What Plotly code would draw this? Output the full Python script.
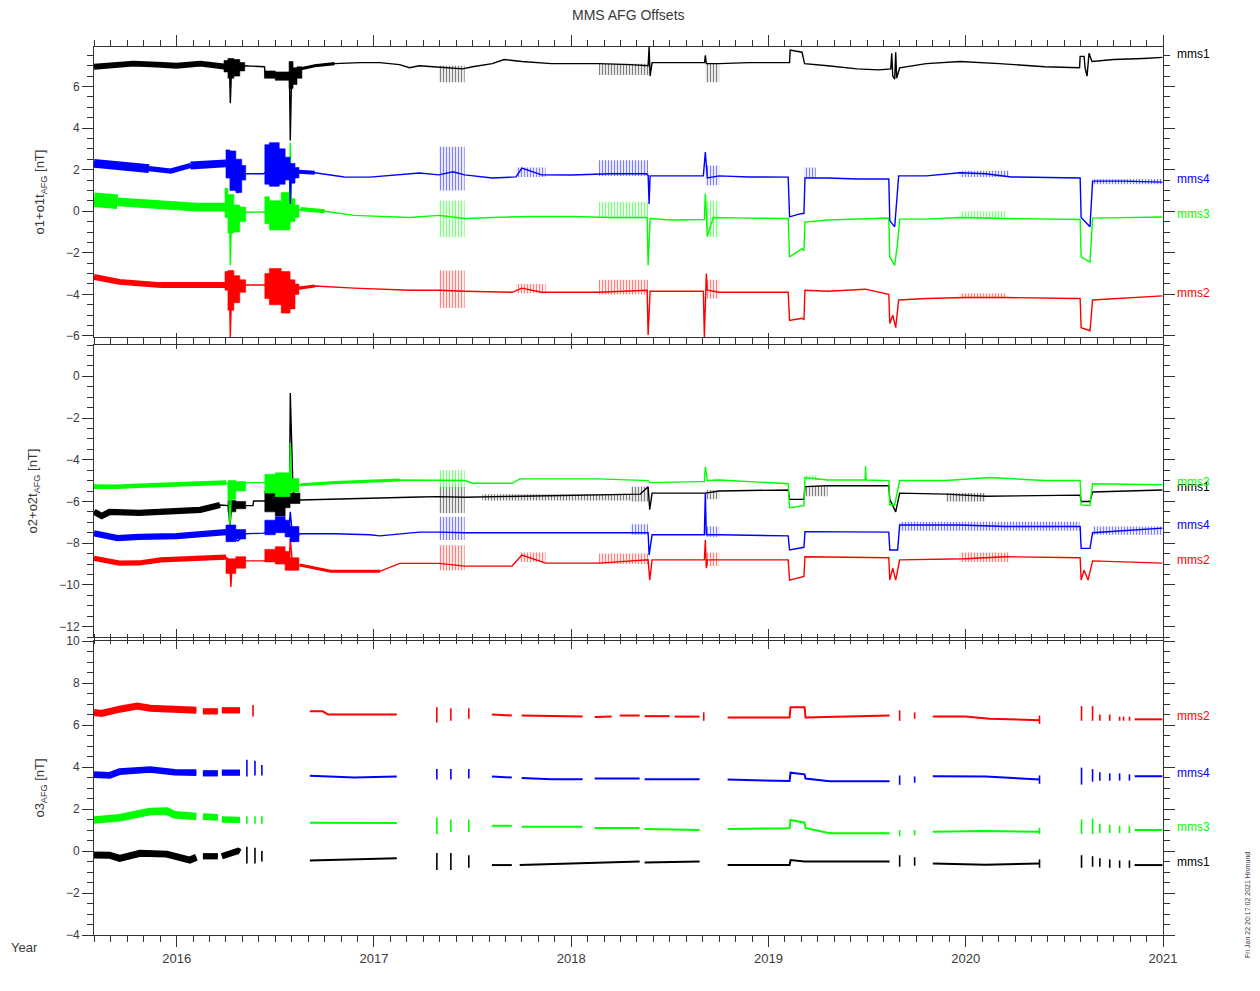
import plotly.graph_objects as go
from plotly.subplots import make_subplots

TITLE = "MMS AFG Offsets"
YEAR_TICKS = [2016, 2017, 2018, 2019, 2020, 2021]
COLORS = {"mms1": "#000000", "mms2": "#ff0000", "mms3": "#00ff00", "mms4": "#0000ff"}
Y_TITLES = ["o1+o1t<sub>AFG</sub> [nT]", "o2+o2t<sub>AFG</sub> [nT]", "o3<sub>AFG</sub> [nT]"]
Y_TICKS = [[-6, -4, -2, 0, 2, 4, 6], [-12, -10, -8, -6, -4, -2, 0], [-4, -2, 0, 2, 4, 6, 8, 10]]
FOOTER = "Fri Jan 22 20:17:02 2021 Hnmund"

# Each series: centre-line points (year, nT); THICK = (t0, t1, noise amplitude nT);
# BANDS = (t0, t1, low, high) noisy envelopes; TICKS = (t, low, high) short isolated bursts.

# ---------------- Panel 1 : o1 + o1t ----------------
P1_MMS1 = [(2015.581, 6.95), (2015.66, 7.0), (2015.78, 7.1), (2015.9, 7.05), (2016.0, 7.0), (2016.12, 7.1),
           (2016.22, 7.0), (2016.25, 6.95), (2016.268, 6.9), (2016.272, 5.2), (2016.278, 6.8), (2016.3, 6.9),
           (2016.34, 7.0), (2016.42, 6.95), (2016.445, 6.95), (2016.45, 6.5), (2016.56, 6.5), (2016.572, 6.4),
           (2016.576, 3.4), (2016.582, 6.2), (2016.6, 6.5), (2016.63, 6.85), (2016.7, 7.0), (2016.8, 7.1),
           (2016.93, 7.15), (2017.03, 7.15), (2017.13, 7.05), (2017.18, 6.9), (2017.23, 7.0), (2017.3, 6.95),
           (2017.45, 6.85), (2017.5, 6.95), (2017.6, 7.1), (2017.66, 7.3), (2017.75, 7.2), (2017.9, 7.1),
           (2018.0, 7.1), (2018.14, 7.1), (2018.3, 7.05), (2018.39, 7.0), (2018.395, 7.9), (2018.40, 6.5),
           (2018.41, 7.15), (2018.5, 7.15), (2018.676, 7.15), (2018.68, 7.5), (2018.685, 7.1), (2018.75, 7.1),
           (2018.9, 7.15), (2019.107, 7.15), (2019.11, 7.75), (2019.17, 7.65), (2019.183, 7.1), (2019.3, 7.0),
           (2019.45, 6.85), (2019.56, 6.8), (2019.62, 6.85), (2019.625, 7.6), (2019.63, 6.5), (2019.64, 6.35),
           (2019.645, 7.65), (2019.65, 6.4), (2019.665, 6.9), (2019.8, 7.1), (2019.97, 7.2), (2020.17, 7.1),
           (2020.4, 6.95), (2020.577, 6.9), (2020.58, 7.45), (2020.60, 7.45), (2020.605, 6.9), (2020.615, 6.5),
           (2020.625, 7.6), (2020.64, 7.2), (2020.75, 7.3), (2020.9, 7.35), (2020.997, 7.4)]
P1_MMS1_THICK = [(2015.581, 2016.25, 0.28), (2016.63, 2016.8, 0.15)]
P1_MMS1_BANDS = [(2016.24, 2016.26, 6.7, 7.25), (2016.26, 2016.29, 6.4, 7.35), (2016.29, 2016.32, 6.5, 7.3),
                 (2016.32, 2016.345, 6.75, 7.15), (2016.445, 2016.5, 6.4, 6.75), (2016.5, 2016.57, 6.3, 6.7),
                 (2016.57, 2016.59, 5.9, 7.2), (2016.59, 2016.61, 6.1, 6.9), (2016.61, 2016.635, 6.4, 6.95),
                 (2017.33, 2017.46, 6.2, 7.0), (2018.14, 2018.395, 6.55, 7.1), (2018.68, 2018.75, 6.2, 7.1)]

P1_MMS4 = [(2015.581, 2.3), (2015.7, 2.2), (2015.86, 2.05), (2015.97, 1.93), (2016.07, 2.2), (2016.2, 2.3),
           (2016.25, 2.3), (2016.30, 1.3), (2016.31, 0.87), (2016.32, 1.5), (2016.35, 1.8), (2016.44, 1.8),
           (2016.5, 2.2), (2016.572, 2.0), (2016.576, 0.35), (2016.582, 1.8), (2016.62, 1.9), (2016.7, 1.85),
           (2016.85, 1.65), (2016.98, 1.64), (2017.1, 1.75), (2017.23, 1.84), (2017.33, 1.75), (2017.4, 1.9),
           (2017.46, 1.75), (2017.6, 1.6), (2017.72, 1.65), (2017.75, 2.07), (2017.85, 1.75), (2018.0, 1.74),
           (2018.2, 1.8), (2018.38, 1.8), (2018.39, 1.74), (2018.395, 0.35), (2018.40, 1.7), (2018.5, 1.7),
           (2018.67, 1.7), (2018.68, 2.85), (2018.69, 1.6), (2018.75, 1.7), (2018.9, 1.65), (2019.1, 1.64),
           (2019.107, -0.27), (2019.15, -0.15), (2019.18, -0.1), (2019.185, 1.6), (2019.3, 1.6), (2019.45, 1.55),
           (2019.61, 1.55), (2019.615, -0.45), (2019.64, -0.75), (2019.66, 1.7), (2019.8, 1.7), (2019.97, 1.85),
           (2020.1, 1.8), (2020.23, 1.65), (2020.55, 1.6), (2020.58, 1.6), (2020.585, -0.3), (2020.63, -0.75),
           (2020.643, 1.45), (2020.8, 1.45), (2020.997, 1.4)]
P1_MMS4_THICK = [(2015.581, 2015.86, 0.42), (2015.86, 2016.07, 0.25), (2016.07, 2016.25, 0.38),
                 (2016.62, 2016.7, 0.2)]
P1_MMS4_BANDS = [(2016.25, 2016.27, 1.6, 2.95), (2016.27, 2016.30, 1.0, 2.9), (2016.30, 2016.33, 0.9, 2.5),
                 (2016.33, 2016.35, 1.5, 2.2), (2016.447, 2016.47, 1.3, 3.2), (2016.47, 2016.52, 1.2, 3.3),
                 (2016.52, 2016.55, 1.3, 3.0), (2016.55, 2016.575, 1.5, 2.6), (2016.575, 2016.60, 1.35, 2.3),
                 (2016.60, 2016.62, 1.6, 2.1), (2017.33, 2017.46, 1.0, 3.1), (2017.72, 2017.87, 1.65, 2.1),
                 (2018.14, 2018.39, 1.7, 2.45), (2018.68, 2018.75, 1.25, 2.2), (2019.18, 2019.24, 1.6, 2.1),
                 (2019.97, 2020.22, 1.65, 1.95), (2020.643, 2020.997, 1.3, 1.55)]

P1_MMS3 = [(2015.581, 0.55), (2015.7, 0.45), (2015.9, 0.3), (2016.1, 0.2), (2016.25, 0.2), (2016.268, 0.0),
           (2016.272, -2.6), (2016.278, -0.2), (2016.33, -0.3), (2016.35, -0.05), (2016.44, -0.04), (2016.5, -0.3),
           (2016.572, 0.0), (2016.576, 3.3), (2016.582, -0.2), (2016.63, 0.1), (2016.75, 0.0), (2016.9, -0.2),
           (2016.98, -0.23), (2017.18, -0.3), (2017.33, -0.2), (2017.4, -0.3), (2017.46, -0.35), (2017.6, -0.3),
           (2017.8, -0.25), (2018.0, -0.25), (2018.2, -0.3), (2018.385, -0.3), (2018.39, -2.6), (2018.40, -0.35),
           (2018.5, -0.42), (2018.675, -0.4), (2018.68, 0.85), (2018.69, -1.2), (2018.72, -0.3), (2018.9, -0.33),
           (2019.1, -0.35), (2019.107, -2.2), (2019.17, -1.8), (2019.18, -1.9), (2019.185, -0.52), (2019.3, -0.42),
           (2019.61, -0.33), (2019.615, -2.2), (2019.64, -2.6), (2019.655, -1.5), (2019.665, -0.38),
           (2019.8, -0.38), (2019.97, -0.3), (2020.2, -0.35), (2020.55, -0.38), (2020.58, -0.4), (2020.585, -2.2),
           (2020.63, -2.45), (2020.643, -0.33), (2020.997, -0.28)]
P1_MMS3_THICK = [(2015.581, 2015.7, 0.7), (2015.7, 2016.25, 0.42), (2016.63, 2016.75, 0.2)]
P1_MMS3_BANDS = [(2016.245, 2016.26, -0.3, 1.1), (2016.26, 2016.29, -1.05, 0.8), (2016.29, 2016.32, -1.0, 0.3),
                 (2016.32, 2016.35, -0.5, 0.2), (2016.447, 2016.47, -0.6, 0.7), (2016.47, 2016.53, -0.9, 0.5),
                 (2016.53, 2016.575, -0.9, 0.9), (2016.575, 2016.60, -0.5, 0.6), (2016.60, 2016.62, -0.3, 0.3),
                 (2017.33, 2017.46, -1.25, 0.5), (2018.14, 2018.39, -0.35, 0.45), (2018.68, 2018.75, -1.25, 0.5),
                 (2019.97, 2020.2, -0.35, 0.0)]

P1_MMS2 = [(2015.581, -3.16), (2015.71, -3.4), (2015.92, -3.55), (2016.17, -3.6), (2016.25, -3.55),
           (2016.268, -3.7), (2016.272, -6.05), (2016.278, -4.0), (2016.33, -3.6), (2016.35, -3.55),
           (2016.44, -3.55), (2016.62, -3.7), (2016.7, -3.6), (2016.9, -3.7), (2017.18, -3.8), (2017.33, -3.8),
           (2017.46, -3.85), (2017.7, -3.9), (2017.75, -3.7), (2017.85, -3.9), (2018.14, -3.9), (2018.3, -3.85),
           (2018.385, -3.8), (2018.39, -5.95), (2018.40, -3.85), (2018.67, -3.85), (2018.675, -6.05),
           (2018.685, -3.0), (2018.69, -3.8), (2018.75, -3.9), (2019.1, -3.9), (2019.107, -5.25), (2019.17, -5.15),
           (2019.18, -5.2), (2019.185, -3.8), (2019.3, -3.85), (2019.49, -3.75), (2019.61, -4.0), (2019.615, -5.4),
           (2019.63, -5.0), (2019.645, -5.6), (2019.66, -4.27), (2019.8, -4.2), (2020.0, -4.15), (2020.2, -4.15),
           (2020.55, -4.2), (2020.58, -4.2), (2020.585, -5.6), (2020.63, -5.75), (2020.643, -4.27),
           (2020.997, -4.07)]
P1_MMS2_THICK = [(2015.581, 2016.25, 0.28), (2016.62, 2016.7, 0.15)]
P1_MMS2_BANDS = [(2016.245, 2016.26, -3.8, -2.9), (2016.26, 2016.29, -4.76, -2.85), (2016.29, 2016.32, -4.4, -3.1),
                 (2016.32, 2016.35, -3.9, -3.3), (2016.447, 2016.47, -4.2, -3.0), (2016.47, 2016.53, -4.5, -2.75),
                 (2016.53, 2016.575, -4.9, -2.9), (2016.575, 2016.60, -4.7, -3.3), (2016.60, 2016.62, -4.0, -3.5),
                 (2017.33, 2017.46, -4.65, -2.85), (2017.72, 2017.87, -3.95, -3.5), (2018.14, 2018.39, -4.0, -3.3),
                 (2018.68, 2018.75, -4.2, -3.3), (2019.97, 2020.2, -4.2, -3.95)]

# ---------------- Panel 2 : o2 + o2t ----------------
P2_MMS3 = [(2015.581, -5.29), (2015.7, -5.3), (2015.81, -5.25), (2016.12, -5.15), (2016.25, -5.1),
           (2016.262, -5.2), (2016.27, -7.2), (2016.278, -5.4), (2016.33, -5.3), (2016.35, -5.1), (2016.44, -5.1),
           (2016.572, -5.1), (2016.576, -3.2), (2016.582, -5.3), (2016.63, -5.2), (2016.8, -5.1), (2017.13, -4.97),
           (2017.23, -4.97), (2017.46, -5.0), (2017.5, -5.13), (2017.7, -5.13), (2017.74, -4.92), (2018.14, -4.92),
           (2018.39, -5.0), (2018.40, -5.1), (2018.65, -5.05), (2018.675, -5.05), (2018.68, -4.33),
           (2018.69, -5.0), (2018.75, -4.97), (2019.1, -5.15), (2019.107, -6.3), (2019.18, -6.2), (2019.185, -4.85),
           (2019.3, -4.97), (2019.49, -4.97), (2019.492, -4.3), (2019.495, -4.97), (2019.61, -5.0),
           (2019.615, -6.17), (2019.64, -6.17), (2019.665, -5.0), (2019.9, -5.0), (2020.12, -4.85), (2020.4, -5.0),
           (2020.58, -5.0), (2020.585, -6.17), (2020.63, -6.2), (2020.643, -5.15), (2020.997, -5.2)]
P2_MMS3_THICK = [(2015.581, 2016.25, 0.22), (2016.63, 2017.13, 0.15)]
P2_MMS3_BANDS = [(2016.26, 2016.30, -5.9, -5.0), (2016.30, 2016.35, -5.5, -5.05), (2016.447, 2016.5, -5.6, -4.7),
                 (2016.5, 2016.575, -5.77, -4.63), (2016.575, 2016.62, -5.55, -4.9), (2017.33, 2017.46, -5.4, -4.5),
                 (2019.18, 2019.25, -5.0, -4.75)]

P2_MMS1 = [(2015.581, -6.49), (2015.62, -6.7), (2015.66, -6.5), (2015.81, -6.55), (2016.12, -6.4),
           (2016.22, -6.17), (2016.262, -6.2), (2016.27, -7.2), (2016.278, -6.3), (2016.35, -6.2), (2016.387, -6.2),
           (2016.39, -5.98), (2016.447, -5.98), (2016.5, -6.3), (2016.572, -6.0), (2016.576, -0.8), (2016.59, -5.5),
           (2016.6, -6.0), (2016.625, -5.93), (2016.8, -5.9), (2017.0, -5.85), (2017.23, -5.79), (2017.33, -5.77),
           (2017.46, -5.8), (2017.74, -5.75), (2018.0, -5.7), (2018.35, -5.65), (2018.39, -5.3), (2018.398, -6.4),
           (2018.41, -5.6), (2018.68, -5.6), (2018.75, -5.5), (2019.1, -5.45), (2019.107, -5.9), (2019.18, -5.9),
           (2019.185, -5.29), (2019.3, -5.25), (2019.61, -5.25), (2019.615, -5.9), (2019.63, -6.2),
           (2019.645, -6.5), (2019.665, -5.6), (2019.9, -5.65), (2020.1, -5.75), (2020.4, -5.7), (2020.58, -5.7),
           (2020.585, -6.0), (2020.63, -6.0), (2020.643, -5.55), (2020.997, -5.45)]
P2_MMS1_THICK = [(2015.581, 2016.22, 0.3)]
P2_MMS1_BANDS = [(2016.26, 2016.30, -6.5, -5.95), (2016.30, 2016.35, -6.35, -6.0), (2016.447, 2016.5, -6.5, -5.5),
                 (2016.5, 2016.55, -6.7, -5.45), (2016.55, 2016.575, -6.3, -5.6), (2016.575, 2016.625, -6.1, -5.6),
                 (2017.33, 2017.46, -6.55, -5.3), (2017.55, 2018.3, -5.95, -5.65), (2018.3, 2018.39, -6.0, -5.3),
                 (2018.68, 2018.75, -5.9, -5.45), (2019.185, 2019.3, -5.75, -5.29), (2019.9, 2020.1, -6.0, -5.6)]

P2_MMS4 = [(2015.581, -7.53), (2015.7, -7.76), (2015.81, -7.7), (2016.0, -7.66), (2016.25, -7.47),
           (2016.31, -7.9), (2016.35, -7.55), (2016.44, -7.52), (2016.572, -7.0), (2016.576, -6.5),
           (2016.59, -7.93), (2016.625, -7.55), (2016.8, -7.55), (2016.98, -7.6), (2017.03, -7.65),
           (2017.23, -7.47), (2017.33, -7.47), (2017.46, -7.5), (2018.0, -7.5), (2018.35, -7.5), (2018.39, -7.5),
           (2018.395, -8.57), (2018.41, -7.6), (2018.675, -7.6), (2018.68, -5.6), (2018.685, -7.6),
           (2018.75, -7.6), (2019.1, -7.65), (2019.107, -8.33), (2019.18, -8.2), (2019.185, -7.45),
           (2019.61, -7.47), (2019.615, -8.33), (2019.655, -8.33), (2019.665, -7.13), (2019.97, -7.13),
           (2020.2, -7.2), (2020.58, -7.2), (2020.585, -8.25), (2020.63, -8.25), (2020.643, -7.5), (2020.997, -7.28)]
P2_MMS4_THICK = [(2015.581, 2016.25, 0.3)]
P2_MMS4_BANDS = [(2016.25, 2016.30, -7.93, -7.13), (2016.30, 2016.35, -7.8, -7.35), (2016.447, 2016.5, -7.6, -6.9),
                 (2016.5, 2016.55, -7.5, -6.73), (2016.55, 2016.575, -7.7, -6.9), (2016.575, 2016.62, -7.93, -7.2),
                 (2017.33, 2017.46, -7.85, -6.73), (2018.3, 2018.39, -7.6, -7.1), (2018.68, 2018.75, -7.7, -7.2),
                 (2019.665, 2020.577, -7.4, -6.97), (2020.643, 2020.997, -7.6, -7.2)]

P2_MMS2 = [(2015.581, -8.73), (2015.71, -8.96), (2015.81, -8.95), (2015.92, -8.8), (2016.25, -8.67),
           (2016.268, -8.8), (2016.275, -10.1), (2016.28, -9.2), (2016.35, -8.85), (2016.44, -8.85),
           (2016.572, -8.6), (2016.576, -7.8), (2016.59, -9.3), (2016.625, -9.05), (2016.78, -9.35),
           (2017.03, -9.35), (2017.13, -8.97), (2017.33, -8.97), (2017.46, -9.1), (2017.7, -9.1), (2017.75, -8.57),
           (2017.87, -8.96), (2018.14, -8.96), (2018.39, -8.8), (2018.398, -9.77), (2018.41, -8.8),
           (2018.675, -8.8), (2018.68, -7.85), (2018.685, -9.2), (2018.69, -8.8), (2019.1, -8.8), (2019.107, -9.77),
           (2019.18, -9.6), (2019.185, -8.65), (2019.61, -8.7), (2019.615, -9.77), (2019.63, -9.2),
           (2019.645, -9.77), (2019.665, -8.8), (2020.0, -8.75), (2020.2, -8.65), (2020.58, -8.7),
           (2020.585, -9.77), (2020.6, -9.3), (2020.62, -9.77), (2020.643, -8.85), (2020.997, -8.96)]
P2_MMS2_THICK = [(2015.581, 2016.25, 0.25), (2016.625, 2017.03, 0.15)]
P2_MMS2_BANDS = [(2016.25, 2016.30, -9.45, -8.75), (2016.30, 2016.35, -9.2, -8.65), (2016.447, 2016.5, -8.9, -8.3),
                 (2016.5, 2016.55, -9.0, -8.17), (2016.55, 2016.575, -9.3, -8.4), (2016.575, 2016.62, -9.3, -8.7),
                 (2017.33, 2017.46, -9.3, -8.1), (2017.74, 2017.87, -8.9, -8.45), (2018.14, 2018.39, -9.0, -8.5),
                 (2018.68, 2018.75, -9.1, -8.45), (2019.97, 2020.22, -8.9, -8.45)]

# ---------------- Panel 3 : o3 (None = data gap) ----------------
P3_MMS2 = [(2015.581, 6.6), (2015.62, 6.55), (2015.711, 6.75), (2015.8, 6.9), (2015.865, 6.8), (2015.99, 6.75),
           (2016.1, 6.7), (2016.118, None), (2016.133, 6.65), (2016.209, 6.65), (2016.215, None), (2016.229, 6.7),
           (2016.321, 6.7), (2016.33, None), (2016.675, 6.65), (2016.741, 6.65), (2016.767, 6.5), (2016.9, 6.5),
           (2017.116, 6.5), (2017.12, None), (2017.598, 6.5), (2017.699, 6.45), (2017.71, None), (2017.749, 6.45),
           (2018.058, 6.4), (2018.07, None), (2018.119, 6.38), (2018.205, 6.4), (2018.215, None), (2018.246, 6.45),
           (2018.347, 6.45), (2018.35, None), (2018.372, 6.42), (2018.499, 6.42), (2018.51, None), (2018.524, 6.4),
           (2018.651, 6.4), (2018.66, None), (2018.793, 6.36), (2019.107, 6.36), (2019.112, 6.85), (2019.183, 6.85),
           (2019.188, 6.36), (2019.411, 6.4), (2019.614, 6.45), (2019.62, None), (2019.833, 6.4), (2020.0, 6.4),
           (2020.121, 6.3), (2020.374, 6.23), (2020.38, None), (2020.856, 6.27), (2020.997, 6.27)]
P3_MMS2_THICK = [(2015.581, 2016.1, 0.33), (2016.133, 2016.209, 0.3), (2016.229, 2016.321, 0.3)]
P3_MMS2_TICKS = [(2016.387, 6.4, 6.95), (2017.319, 6.12, 6.85), (2017.390, 6.2, 6.8), (2017.481, 6.3, 6.8),
                 (2018.672, 6.2, 6.6), (2019.665, 6.2, 6.7), (2019.741, 6.3, 6.6), (2020.374, 6.05, 6.45),
                 (2020.587, 6.2, 6.9), (2020.643, 6.2, 6.9), (2020.68, 6.2, 6.5), (2020.73, 6.2, 6.5),
                 (2020.78, 6.2, 6.4), (2020.8, 6.2, 6.4), (2020.83, 6.2, 6.4)]

P3_MMS4 = [(2015.581, 3.64), (2015.66, 3.6), (2015.711, 3.78), (2015.865, 3.88), (2015.99, 3.75), (2016.1, 3.73),
           (2016.118, None), (2016.133, 3.7), (2016.209, 3.7), (2016.215, None), (2016.229, 3.73), (2016.321, 3.73),
           (2016.33, None), (2016.675, 3.58), (2016.767, 3.55), (2016.9, 3.5), (2017.116, 3.55), (2017.12, None),
           (2017.598, 3.55), (2017.699, 3.5), (2017.71, None), (2017.749, 3.48), (2017.9, 3.42), (2018.058, 3.42),
           (2018.07, None), (2018.119, 3.45), (2018.347, 3.45), (2018.35, None), (2018.372, 3.42), (2018.651, 3.42),
           (2018.66, None), (2018.793, 3.4), (2019.107, 3.33), (2019.112, 3.73), (2019.183, 3.65), (2019.188, 3.45),
           (2019.310, 3.32), (2019.614, 3.32), (2019.62, None), (2019.833, 3.56), (2020.1, 3.55), (2020.374, 3.4),
           (2020.38, None), (2020.856, 3.56), (2020.997, 3.56)]
P3_MMS4_THICK = [(2015.581, 2016.1, 0.32), (2016.133, 2016.209, 0.3), (2016.229, 2016.321, 0.3)]
P3_MMS4_TICKS = [(2016.356, 3.55, 4.35), (2016.397, 3.6, 4.3), (2016.432, 3.6, 4.1), (2017.319, 3.4, 3.9),
                 (2017.390, 3.4, 3.9), (2017.481, 3.45, 3.9), (2019.665, 3.15, 3.6), (2019.741, 3.25, 3.55),
                 (2020.374, 3.2, 3.6), (2020.587, 3.16, 3.97), (2020.643, 3.3, 3.9), (2020.68, 3.35, 3.75),
                 (2020.73, 3.35, 3.7), (2020.78, 3.35, 3.7), (2020.83, 3.35, 3.65)]

P3_MMS3 = [(2015.581, 1.48), (2015.66, 1.5), (2015.711, 1.58), (2015.865, 1.88), (2015.95, 1.9), (2015.99, 1.72),
           (2016.1, 1.64), (2016.118, None), (2016.133, 1.64), (2016.209, 1.6), (2016.215, None), (2016.229, 1.5),
           (2016.321, 1.48), (2016.33, None), (2016.675, 1.35), (2017.116, 1.33), (2017.12, None), (2017.598, 1.2),
           (2017.699, 1.2), (2017.71, None), (2017.749, 1.16), (2018.058, 1.16), (2018.07, None), (2018.119, 1.1),
           (2018.347, 1.1), (2018.35, None), (2018.372, 1.05), (2018.651, 1.0), (2018.66, None), (2018.793, 1.05),
           (2019.107, 1.08), (2019.112, 1.48), (2019.183, 1.35), (2019.188, 1.1), (2019.310, 0.85),
           (2019.614, 0.85), (2019.62, None), (2019.833, 0.92), (2020.1, 0.95), (2020.374, 0.92), (2020.38, None),
           (2020.856, 1.0), (2020.997, 1.0)]
P3_MMS3_THICK = [(2015.581, 2016.1, 0.36), (2016.133, 2016.209, 0.32), (2016.229, 2016.321, 0.3)]
P3_MMS3_TICKS = [(2016.356, 1.3, 1.65), (2016.397, 1.3, 1.65), (2016.432, 1.3, 1.65), (2017.319, 0.8, 1.6),
                 (2017.390, 0.9, 1.5), (2017.481, 0.9, 1.5), (2019.665, 0.7, 1.0), (2019.741, 0.75, 1.0),
                 (2020.374, 0.8, 1.1), (2020.587, 0.8, 1.5), (2020.643, 0.8, 1.55), (2020.68, 0.85, 1.3),
                 (2020.73, 0.85, 1.25), (2020.78, 0.85, 1.2), (2020.83, 0.85, 1.2)]

P3_MMS1 = [(2015.581, -0.19), (2015.66, -0.2), (2015.711, -0.35), (2015.814, -0.11), (2015.95, -0.15),
           (2016.067, -0.43), (2016.1, -0.3), (2016.118, None), (2016.133, -0.25), (2016.209, -0.25),
           (2016.215, None), (2016.229, -0.25), (2016.311, 0.0), (2016.321, -0.05), (2016.33, None),
           (2016.675, -0.45), (2016.9, -0.4), (2017.116, -0.35), (2017.12, None), (2017.598, -0.67),
           (2017.699, -0.67), (2017.71, None), (2017.739, -0.67), (2018.0, -0.6), (2018.347, -0.5), (2018.35, None),
           (2018.372, -0.55), (2018.651, -0.5), (2018.66, None), (2018.793, -0.67), (2019.107, -0.67),
           (2019.112, -0.43), (2019.183, -0.5), (2019.614, -0.5), (2019.62, None), (2019.833, -0.59),
           (2020.1, -0.65), (2020.374, -0.59), (2020.38, None), (2020.856, -0.67), (2020.997, -0.67)]
P3_MMS1_THICK = [(2015.581, 2016.1, 0.33), (2016.133, 2016.209, 0.3), (2016.229, 2016.321, 0.3)]
P3_MMS1_TICKS = [(2016.356, -0.6, 0.2), (2016.397, -0.6, 0.15), (2016.432, -0.5, 0.0), (2017.319, -0.9, -0.1),
                 (2017.390, -0.9, -0.1), (2017.481, -0.8, -0.2), (2019.665, -0.75, -0.2), (2019.741, -0.7, -0.3),
                 (2020.374, -0.8, -0.4), (2020.587, -0.8, -0.2), (2020.643, -0.75, -0.25), (2020.68, -0.75, -0.35),
                 (2020.73, -0.8, -0.4), (2020.78, -0.8, -0.45), (2020.83, -0.8, -0.45)]

PANELS = [
    {"mms1": (P1_MMS1, P1_MMS1_THICK, P1_MMS1_BANDS, []), "mms2": (P1_MMS2, P1_MMS2_THICK, P1_MMS2_BANDS, []),
     "mms3": (P1_MMS3, P1_MMS3_THICK, P1_MMS3_BANDS, []), "mms4": (P1_MMS4, P1_MMS4_THICK, P1_MMS4_BANDS, [])},
    {"mms1": (P2_MMS1, P2_MMS1_THICK, P2_MMS1_BANDS, []), "mms2": (P2_MMS2, P2_MMS2_THICK, P2_MMS2_BANDS, []),
     "mms3": (P2_MMS3, P2_MMS3_THICK, P2_MMS3_BANDS, []), "mms4": (P2_MMS4, P2_MMS4_THICK, P2_MMS4_BANDS, [])},
    {"mms1": (P3_MMS1, P3_MMS1_THICK, [], P3_MMS1_TICKS), "mms2": (P3_MMS2, P3_MMS2_THICK, [], P3_MMS2_TICKS),
     "mms3": (P3_MMS3, P3_MMS3_THICK, [], P3_MMS3_TICKS), "mms4": (P3_MMS4, P3_MMS4_THICK, [], P3_MMS4_TICKS)},
]
DRAW_ORDER = ["mms1", "mms2", "mms3", "mms4"]

# ---------------- layout geometry (page pixels; page body adds an 8px offset) ----------------
OFF = 8
W, H = 1260 - OFF, 991 - OFF
PLOT_L, PLOT_R, PLOT_T, PLOT_B = 94 - OFF, 1163 - OFF, 47 - OFF, 935 - OFF
ML, MR, MT, MB = PLOT_L, W - PLOT_R, PLOT_T, H - PLOT_B
PW, PH = PLOT_R - PLOT_L, PLOT_B - PLOT_T
PANEL_PX = [(47 - OFF, 337 - OFF), (345 - OFF, 637 - OFF), (641 - OFF, 935 - OFF)]
Y_RANGES = [[-6.05, 7.9], [-12.5, 1.5], [-4.0, 10.0]]
X_RANGE = [2015.581, 2021.0]


def paper_x(page_x):
    return (page_x - OFF - PLOT_L) / PW


def paper_y(page_y):
    return (PLOT_B - (page_y - OFF)) / PH


fig = make_subplots(rows=3, cols=1)
TXT = "#3a3a3a"
AX = "#333333"
FONT = "Liberation Sans, Arial, sans-serif"

for r, panel in enumerate(PANELS, start=1):
    lw = 2.0 if r == 3 else 1.4
    top, bot = PANEL_PX[r - 1]
    px_per_unit = (bot - top) / (Y_RANGES[r - 1][1] - Y_RANGES[r - 1][0])
    for sc in DRAW_ORDER:
        pts, thick, bands, ticks = panel[sc]
        col = COLORS[sc]
        solid_x, solid_y, light_x, light_y = [], [], [], []
        for t0, t1, lo, hi in bands:
            bx = [t0, t1, t1, t0, t0, None]
            by = [lo, lo, hi, hi, lo, None]
            if t0 < 2017:
                solid_x += bx
                solid_y += by
            else:
                light_x += bx
                light_y += by
        if solid_x:
            fig.add_trace(go.Scatter(x=solid_x, y=solid_y, mode="lines", fill="toself", fillcolor=col,
                                     line=dict(color=col, width=0.6), hoverinfo="skip", showlegend=False),
                          row=r, col=1)
        if light_x:
            fig.add_trace(go.Scatter(x=light_x, y=light_y, mode="lines", fill="toself",
                                     fillcolor="rgba(0,0,0,0)",
                                     fillpattern=dict(shape="|", fgcolor=col, bgcolor="rgba(0,0,0,0)",
                                                      size=3, solidity=0.45),
                                     line=dict(color=col, width=0), hoverinfo="skip", showlegend=False),
                          row=r, col=1)
        for t0, t1, amp in thick:
            seg = [p for p in pts if t0 <= p[0] <= t1 and p[1] is not None]
            fig.add_trace(go.Scatter(x=[p[0] for p in seg], y=[p[1] for p in seg], mode="lines",
                                     line=dict(color=col, width=max(lw, amp * px_per_unit)),
                                     hoverinfo="skip", showlegend=False), row=r, col=1)
        if ticks:
            tx, ty = [], []
            for t, lo, hi in ticks:
                tx += [t, t, None]
                ty += [lo, hi, None]
            fig.add_trace(go.Scatter(x=tx, y=ty, mode="lines", line=dict(color=col, width=1.6),
                                     hoverinfo="skip", showlegend=False), row=r, col=1)
        fig.add_trace(go.Scatter(x=[p[0] for p in pts], y=[p[1] for p in pts], mode="lines",
                                 line=dict(color=col, width=lw), connectgaps=False, name=sc,
                                 showlegend=False), row=r, col=1)
        last = [p[1] for p in pts if p[1] is not None][-1]
        fig.add_annotation(x=paper_x(1175), xref="paper", y=last, yref=f"y{'' if r == 1 else r}",
                           text=sc, showarrow=False, xanchor="left", yanchor="middle", yshift=3,
                           font=dict(family=FONT, size=12, color=col))

for r in range(1, 4):
    top, bot = PANEL_PX[r - 1]
    dom = [(PLOT_B - bot) / PH, (PLOT_B - top) / PH]
    axn = "" if r == 1 else str(r)
    fig.layout[f"xaxis{axn}"].update(
        domain=[0, 1], range=X_RANGE, tickmode="array", tickvals=YEAR_TICKS,
        ticktext=[str(y) for y in YEAR_TICKS], showticklabels=(r == 3), ticks="outside", ticklen=11,
        tickwidth=1, tickcolor=AX, showline=True, linecolor=AX, linewidth=1, mirror="allticks",
        showgrid=False, zeroline=False, tickfont=dict(family=FONT, size=13, color=TXT),
        minor=dict(ticks="outside", ticklen=6, tickcolor=AX, dtick=1 / 12, tick0=2016, showgrid=False))
    fig.layout[f"yaxis{axn}"].update(
        domain=dom, range=Y_RANGES[r - 1], tickmode="array", tickvals=Y_TICKS[r - 1],
        ticks="outside", ticklen=11, tickwidth=1, tickcolor=AX, showline=True, linecolor=AX,
        linewidth=1, mirror="allticks", showgrid=False, zeroline=False,
        tickfont=dict(family=FONT, size=12, color=TXT),
        minor=dict(ticks="outside", ticklen=6, tickcolor=AX, dtick=0.5, tick0=0, showgrid=False),
        title=dict(text=Y_TITLES[r - 1], font=dict(family=FONT, size=13, color=TXT), standoff=18))

fig.add_annotation(x=0.5, xref="paper", y=paper_y(15), yref="paper", text=TITLE, showarrow=False,
                   font=dict(family=FONT, size=14, color=TXT), yanchor="middle")
fig.add_annotation(x=paper_x(24), xref="paper", y=paper_y(948), yref="paper", text="Year", showarrow=False,
                   font=dict(family=FONT, size=13, color=TXT), xanchor="center", yanchor="middle")
fig.add_annotation(x=paper_x(1247), xref="paper", y=paper_y(905), yref="paper", text=FOOTER,
                   showarrow=False, textangle=-90, font=dict(family=FONT, size=7, color=TXT),
                   xanchor="center", yanchor="middle")

fig.update_layout(width=W, height=H, margin=dict(l=ML, r=MR, t=MT, b=MB, autoexpand=False),
                  paper_bgcolor="white", plot_bgcolor="white", showlegend=False,
                  font=dict(family=FONT, color=TXT))

fig.write_html("out.html")
